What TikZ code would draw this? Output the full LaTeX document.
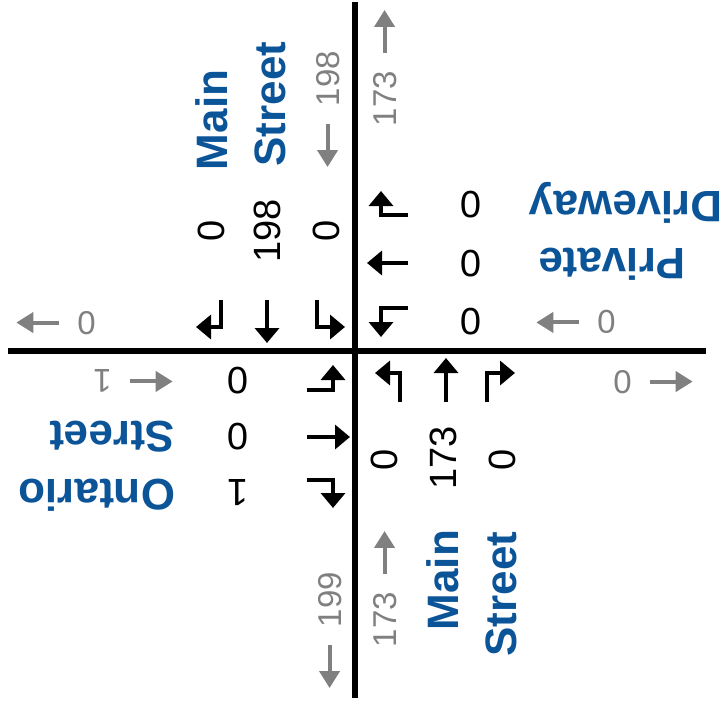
\documentclass[tikz,border=0pt]{standalone}
\usepackage{fontspec}
\setmainfont{Liberation Sans}
\usetikzlibrary{arrows.meta,calc}
\definecolor{streetblue}{RGB}{12,84,152}
\definecolor{volgray}{RGB}{128,128,128}
\newcommand{\lefttot}{\tikz[baseline=-11.8pt]\draw[line width=4pt,draw=volgray,-{Triangle[width=20pt,length=17pt]}] (43pt,0pt) -- (0pt,0pt);}
\newcommand{\righttot}{\tikz[baseline=-11.8pt]\draw[line width=4pt,draw=volgray,-{Triangle[width=20pt,length=17pt]}] (0pt,0pt) -- (43pt,0pt);}
\tikzset{
  road/.style={line width=5.5pt},
  move/.style={line width=3.5pt,-{Triangle[width=24pt,length=15pt]}},
  vol/.style={font=\fontsize{38}{38}\selectfont},
  tot/.style={font=\fontsize{33}{33}\selectfont,text=volgray},
  street/.style={font=\fontsize{44}{44}\selectfont\bfseries,text=streetblue}
}
\begin{document}
\begin{tikzpicture}[x=1pt,y=-1pt]
\useasboundingbox (0,0) rectangle (723,704);

\coordinate (N) at (355,2);
\coordinate (S) at (355,698);
\coordinate (W) at (8,351);
\coordinate (E) at (706,351);

\draw[road] (N) -- (S);
\draw[road] (W) -- (E);

% north leg
\draw[move] (221,300) |- (196,327);
\draw[move] (267,300) -- (267,343);
\draw[move] (317,300) |- (345,327);
\node[vol,rotate=90] (nR) at (211,231) {0};
\node[vol,rotate=90] (nT) at (267,231) {198};
\node[vol,rotate=90] (nL) at (326,231) {0};
\node[street,rotate=90] (nMain) at (212,120) {Main};
\node[street,rotate=90] (nStreet) at (270,104) {Street};
\node[tot,rotate=90] (nIn) at (328,110) {\lefttot\hspace{16pt}198};
\node[tot,rotate=90] (nOut) at (385,67) {173\hspace{16pt}\righttot};

% east leg
\draw[move] (408,215) -| (381,191);
\draw[move] (408,263) -- (367,263);
\draw[move] (408,308) -| (381,337);
\node[vol,rotate=180] (eR) at (471,205) {0};
\node[vol,rotate=180] (eT) at (471,264) {0};
\node[vol,rotate=180] (eL) at (471,322) {0};
\node[street,rotate=180] (ePrivate) at (612,264) {Private};
\node[street,rotate=180] (eDriveway) at (626,203) {Driveway};
\node[tot,rotate=180] (eIn) at (575,322) {0\hspace{16pt}\righttot};
\node[tot] (eOut) at (654,382) {0\hspace{16pt}\righttot};

% south leg
\draw[move] (400,402) |- (375,373);
\draw[move] (446,402) -- (446,358);
\draw[move] (487,402) |- (515,373);
\node[vol,rotate=90] (sL) at (384,460) {0};
\node[vol,rotate=90] (sT) at (443,458) {173};
\node[vol,rotate=90] (sR) at (502,460) {0};
\node[street,rotate=90] (sMain) at (443,580) {Main};
\node[street,rotate=90] (sStreet) at (501,594) {Street};
\node[tot,rotate=90] (sOut) at (330,631) {\lefttot\hspace{16pt}199};
\node[tot,rotate=90] (sIn) at (385,588) {173\hspace{16pt}\righttot};

% west leg
\draw[move] (307,390) -| (333,365);
\draw[move] (307,437) -- (350,437);
\draw[move] (307,480) -| (333,508);
\node[vol,rotate=180] (wL) at (238,381) {0};
\node[vol,rotate=180] (wT) at (238,437) {0};
\node[vol,rotate=180] (wR) at (238,493) {1};
\node[street,rotate=180] (wStreet) at (112,437) {Street};
\node[street,rotate=180] (wOntario) at (97,495) {Ontario};
\node[tot] (wOut) at (55,323) {\lefttot\hspace{16pt}0};
\node[tot,rotate=180] (wIn) at (134,381) {\lefttot\hspace{16pt}1};

\end{tikzpicture}
\end{document}
